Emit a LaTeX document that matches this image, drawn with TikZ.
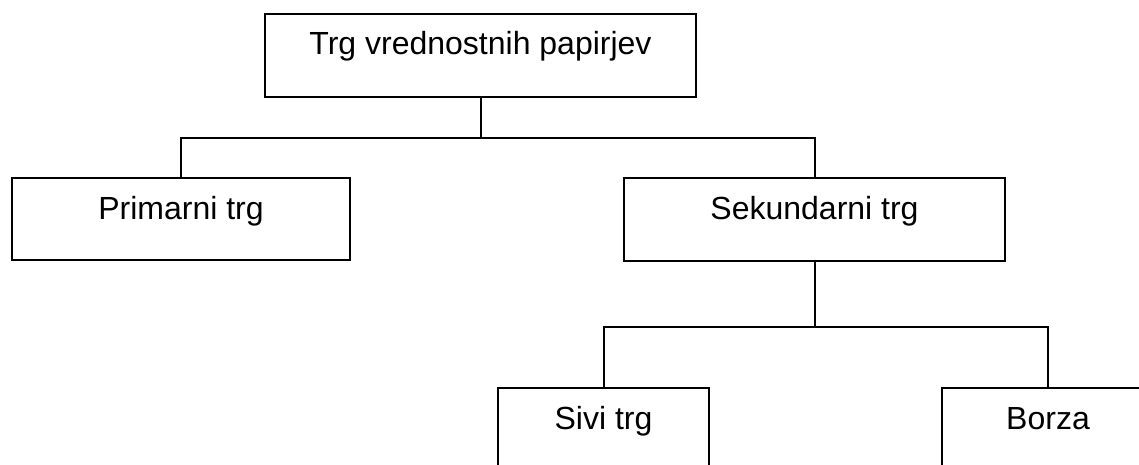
\documentclass[tikz,border=0pt]{standalone}
\usepackage{fontspec}
\setmainfont{Liberation Sans}
\begin{document}
\begin{tikzpicture}[x=1pt,y=-1pt,line width=2pt,
  trgbox/.style={draw,anchor=north west,inner sep=0pt,text height=41pt,text depth=42pt,font=\fontsize{32}{38}\selectfont}]
\useasboundingbox (0,0) rectangle (1139,464);
\clip (0,0) rectangle (1139,464);
\node[trgbox,minimum width=431pt,text height=40pt,text depth=43pt] (vrh) at (264,13) {Trg vrednostnih papirjev};
\node[trgbox,minimum width=338pt,text depth=41pt] (prim) at (11,177) {Primarni trg};
\node[trgbox,minimum width=381pt] (sek) at (623,177) {Sekundarni trg};
\node[trgbox,minimum width=211pt] (sivi) at (497,387) {Sivi trg};
\node[trgbox,minimum width=212pt] (borza) at (941,387) {Borza};
\draw (vrh.south) -- ++(0,40) coordinate (razcep1);
\draw (razcep1) -| (prim.north);
\draw (razcep1) -| (sek.north);
\draw (sek.south) -- ++(0,65) coordinate (razcep2);
\draw (razcep2) -| (sivi.north);
\draw (razcep2) -| (borza.north);
\end{tikzpicture}
\end{document}
